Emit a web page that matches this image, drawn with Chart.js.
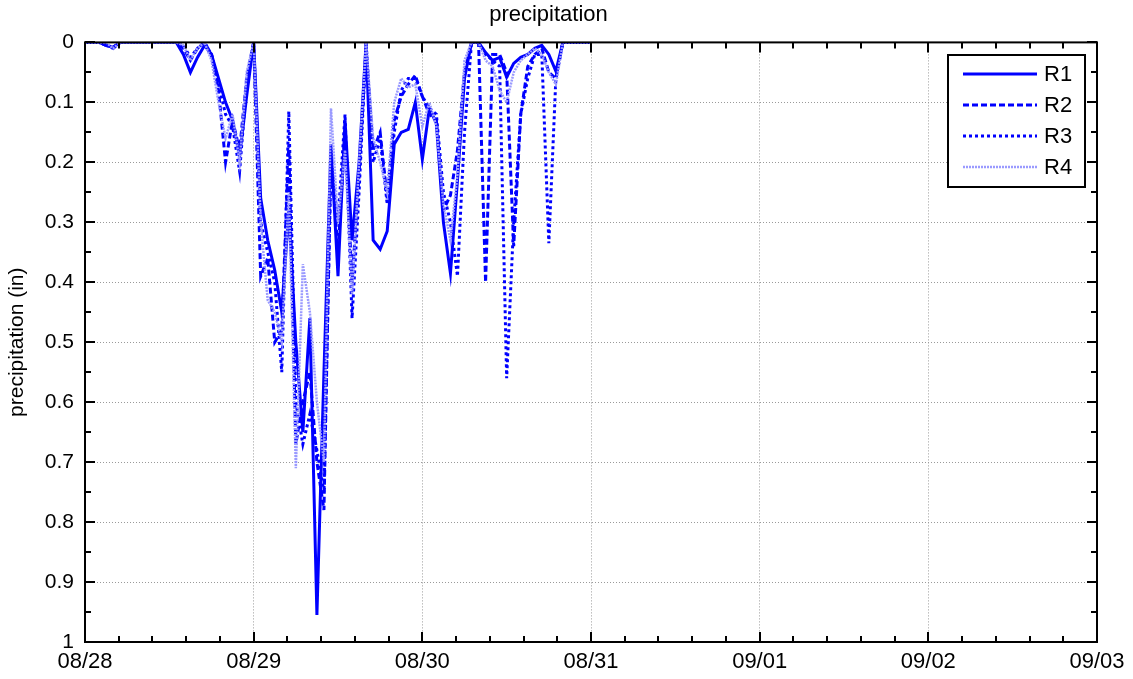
<!DOCTYPE html>
<html>
<head>
<meta charset="utf-8">
<script src="https://cdn.jsdelivr.net/npm/chart.js@4.4.1/dist/chart.umd.min.js"></script>
<style>
  html, body { margin: 0; padding: 0; background: #ffffff; }
  #wrap { width: 1133px; height: 679px; }
</style>
</head>
<body>
<div id="wrap"><canvas id="c" width="1133" height="679"></canvas></div>
<script>
// ---- data (hours since 08/28 00:00) ----
const hours = [0,1,2,3,4,5,6,7,8,9,10,11,12,13,14,15,16,17,18,19,20,21,22,23,24,25,26,27,28,29,30,31,32,33,34,35,36,37,38,39,40,41,42,43,44,45,46,47,48,49,50,51,52,53,54,55,56,57,58,59,60,61,62,63,64,65,66,67,68,69,70,71,72];
const seriesNames = ['R1','R2','R3','R4'];
const r1 = [0,0,0,0.005,0.008,0,0,0,0,0,0,0,0,0,0.02,0.05,0.025,0.005,0.02,0.06,0.1,0.13,0.19,0.09,0,0.26,0.33,0.38,0.45,0.28,0.5,0.65,0.46,0.955,0.55,0.17,0.39,0.13,0.33,0.2,0,0.33,0.345,0.315,0.17,0.15,0.145,0.1,0.195,0.11,0.135,0.3,0.385,0.23,0.06,0,0,0.017,0.03,0.025,0.058,0.035,0.025,0.02,0.01,0.005,0.02,0.048,0,0,0,0,0];
const r2 = [0,0,0,0.005,0.01,0,0,0,0,0,0,0,0,0,0.01,0.03,0.01,0,0.02,0.08,0.2,0.13,0.18,0.06,0,0.39,0.36,0.5,0.48,0.17,0.67,0.6,0.55,0.7,0.78,0.18,0.35,0.15,0.4,0.22,0.01,0.18,0.15,0.26,0.13,0.09,0.07,0.055,0.09,0.12,0.13,0.28,0.255,0.18,0.05,0,0,0.4,0.02,0.02,0.05,0.34,0.12,0.04,0.02,0.01,0.05,0.06,0,0,0,0,0];
const r3 = [0,0,0,0.005,0.008,0,0,0,0,0,0,0,0,0,0.005,0.025,0.01,0,0.02,0.07,0.12,0.14,0.215,0.07,0,0.3,0.35,0.4,0.55,0.115,0.6,0.67,0.62,0.68,0.75,0.2,0.3,0.12,0.46,0.25,0,0.2,0.16,0.27,0.15,0.08,0.06,0.06,0.09,0.11,0.12,0.25,0.3,0.39,0.15,0,0,0.02,0.03,0.04,0.56,0.3,0.12,0.06,0.02,0.02,0.335,0.06,0,0,0,0,0];
const r4 = [0,0,0,0,0.01,0,0,0,0,0,0,0,0,0,0.005,0.03,0.01,0,0.03,0.1,0.16,0.12,0.2,0.05,0,0.3,0.43,0.45,0.5,0.25,0.71,0.37,0.45,0.6,0.7,0.11,0.3,0.18,0.42,0.2,0,0.16,0.2,0.25,0.1,0.06,0.075,0.07,0.14,0.1,0.14,0.27,0.33,0.22,0.03,0,0,0.03,0.04,0.08,0.1,0.05,0.03,0.02,0.01,0.02,0.05,0.07,0,0,0,0,0];
const xTickLabels = ['08/28','08/29','08/30','08/31','09/01','09/02','09/03'];
const yTickLabels = ['0','0.1','0.2','0.3','0.4','0.5','0.6','0.7','0.8','0.9','1'];

const FONT = '"Liberation Sans", Arial, Helvetica, sans-serif';

function pts(vals) { return hours.map((h, i) => ({ x: h, y: vals[i] })); }

const styles = [
  { color: '#0000ff', width: 3, dash: [] },
  { color: '#0000ff', width: 3, dash: [6, 3] },
  { color: '#0000ff', width: 3, dash: [3, 3] },
  { color: '#9a9aff', width: 2.5, dash: [2, 1] }
];
const seriesVals = [r1, r2, r3, r4];

const datasets = seriesNames.map((n, i) => ({
  label: n,
  data: pts(seriesVals[i]),
  borderColor: styles[i].color,
  borderWidth: styles[i].width,
  borderDash: styles[i].dash,
  pointRadius: 0,
  tension: 0,
  fill: false
})).reverse(); // draw R4 first so R1 sits on top

const framePlugin = {
  id: 'frame',
  afterDatasetsDraw(chart) {
    const { ctx, chartArea: a, scales } = chart;
    const xs = scales.x, ys = scales.y;
    ctx.save();
    ctx.strokeStyle = '#000';
    ctx.lineWidth = 2;
    ctx.setLineDash([]);
    ctx.strokeRect(a.left, a.top, a.right - a.left, a.bottom - a.top);
    ctx.lineWidth = 2;
    for (let k = 0; k <= 30; k++) {
      const v = k * 4.8;
      const px = Math.round(xs.getPixelForValue(v));
      const len = (k % 5 === 0) ? 10 : 6;
      ctx.beginPath();
      ctx.moveTo(px, a.bottom); ctx.lineTo(px, a.bottom - len);
      ctx.moveTo(px, a.top); ctx.lineTo(px, a.top + len);
      ctx.stroke();
    }
    for (let k = 0; k <= 20; k++) {
      const v = k * 0.05;
      const py = Math.round(ys.getPixelForValue(v));
      const len = (k % 2 === 0) ? 10 : 6;
      ctx.beginPath();
      ctx.moveTo(a.left, py); ctx.lineTo(a.left + len, py);
      ctx.moveTo(a.right, py); ctx.lineTo(a.right - len, py);
      ctx.stroke();
    }
    // legend
    const lx = 948, ly = 55, lw = 137, lh = 132;
    ctx.fillStyle = '#fff';
    ctx.fillRect(lx, ly, lw, lh);
    ctx.lineWidth = 2;
    ctx.strokeStyle = '#000';
    ctx.strokeRect(lx, ly, lw, lh);
    ctx.font = '22px ' + FONT;
    ctx.textBaseline = 'middle';
    ctx.textAlign = 'left';
    seriesNames.forEach((n, i) => {
      const yy = ly + 19 + i * 31;
      ctx.beginPath();
      ctx.strokeStyle = styles[i].color;
      ctx.lineWidth = styles[i].width;
      ctx.setLineDash(styles[i].dash);
      ctx.moveTo(lx + 15, yy); ctx.lineTo(lx + 89, yy);
      ctx.stroke();
      ctx.setLineDash([]);
      ctx.fillStyle = '#000';
      ctx.fillText(n, lx + 96, yy + 1);
    });
    ctx.restore();
  }
};

new Chart(document.getElementById('c'), {
  type: 'line',
  data: { datasets },
  options: {
    responsive: false,
    animation: false,
    devicePixelRatio: 1,
    layout: { padding: { left: 0, right: 36, top: 0, bottom: 0 } },
    plugins: {
      legend: { display: false },
      tooltip: { enabled: false },
      title: {
        display: true,
        text: 'precipitation',
        color: '#000',
        font: { family: FONT, size: 22, weight: 'normal', lineHeight: 1.2 },
        padding: { top: 2, bottom: 14 }
      }
    },
    scales: {
      x: {
        type: 'linear',
        min: 0, max: 144,
        afterFit(s) { s.height = 37; },
        ticks: {
          stepSize: 24,
          autoSkip: false,
          maxRotation: 0,
          padding: 7,
          color: '#000',
          font: { family: FONT, size: 22 },
          callback: (v) => xTickLabels[Math.round(v / 24)]
        },
        grid: { color: '#9a9a9a', lineWidth: 1, drawTicks: false },
        border: { display: false, dash: [1, 2] }
      },
      y: {
        type: 'linear',
        reverse: true,
        min: 0, max: 1,
        afterFit(s) { s.width = 85; },
        ticks: {
          stepSize: 0.1,
          padding: 11,
          color: '#000',
          font: { family: FONT, size: 21 },
          callback: (v) => yTickLabels[Math.round(v * 10)]
        },
        grid: { color: '#9a9a9a', lineWidth: 1, drawTicks: false },
        border: { display: false, dash: [1, 2] },
        title: {
          display: true,
          text: 'precipitation (in)',
          color: '#000',
          font: { family: FONT, size: 21 },
          padding: { top: 5, bottom: 0 }
        }
      }
    }
  },
  plugins: [framePlugin]
});
</script>
</body>
</html>
